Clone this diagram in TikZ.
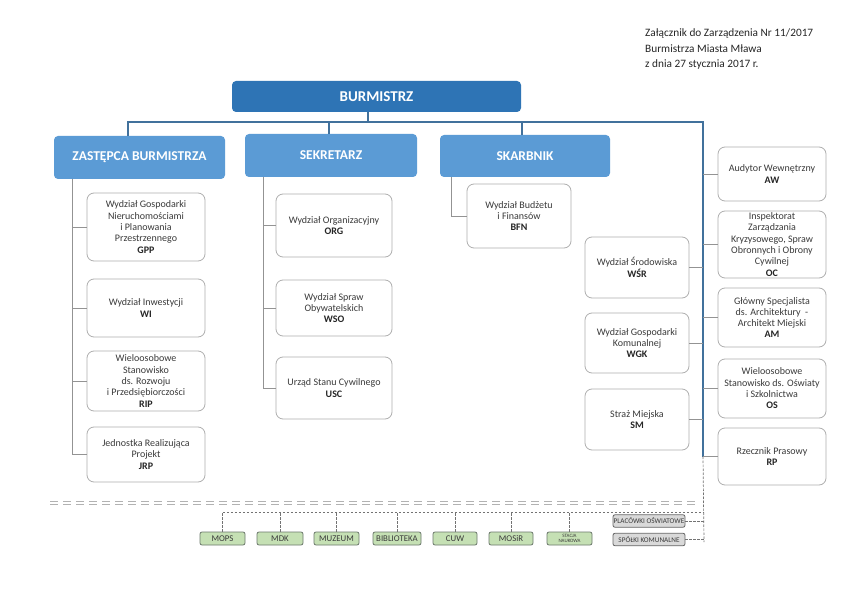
\documentclass[tikz,border=0pt]{standalone}
\usepackage{fontspec}
\setmainfont{Carlito}
\definecolor{dblue}{HTML}{2E74B5}
\definecolor{mblue}{HTML}{5B9BD5}
\definecolor{lineblue}{HTML}{41719C}
\definecolor{boxgray}{HTML}{AFAFAF}
\definecolor{txtgray}{HTML}{3A3A3A}
\definecolor{gfill}{HTML}{C5E0B4}
\definecolor{gdraw}{HTML}{6B786B}
\definecolor{sfill}{HTML}{D9D9D9}
\newcommand\unitcode[1]{\\{\color{black!85}\bfseries #1}}
\begin{document}
\begin{tikzpicture}[x=1pt,y=-1pt,
  unit/.style={draw=boxgray, line width=0.8pt, rounded corners=7pt, fill=white,
    align=center, inner sep=1pt, text=txtgray, font=\fontsize{10}{11.3}\selectfont},
  topbox/.style={fill=dblue, rounded corners=4pt, text=white, inner sep=0pt,
    font=\fontsize{15}{17}\selectfont\bfseries},
  lvl/.style={fill=mblue, rounded corners=4pt, text=white, inner sep=0pt,
    font=\fontsize{13.5}{16}\selectfont\bfseries},
  trunk/.style={draw=lineblue, line width=1.8pt},
  branch/.style={draw=gray!85, line width=0.7pt},
  dsh/.style={draw=gray!90!black, line width=0.7pt, dash pattern=on 2.5pt off 1.5pt},
  sepline/.style={draw=gray!60, line width=1.2pt, dash pattern=on 8pt off 5pt},
  gbox/.style={draw=gdraw, fill=gfill, line width=0.8pt, rounded corners=2pt,
    inner sep=0pt, minimum height=13, text=txtgray, font=\fontsize{8.8}{9}\selectfont},
  sbox/.style={draw=gray!80!black, fill=sfill, line width=0.8pt, rounded corners=2pt,
    inner sep=0pt, minimum width=72, minimum height=12.5, text=txtgray,
    font=\fontsize{7.2}{8}\selectfont}
]
\useasboundingbox[fill=white] (0,0) rectangle (865,599);

% header
\node[anchor=north west, align=left, inner sep=0pt, text=black!85,
  font=\fontsize{11.3}{15.5}\selectfont] (hdr) at (645,28.5)
  {Załącznik do Zarządzenia Nr 11/2017\\Burmistrza Miasta Mława\\z dnia 27 stycznia 2017 r.};

% top levels
\node[topbox, minimum width=289, minimum height=31] (burm) at (376.5,96.5) {BURMISTRZ};
\node[lvl, minimum width=171, minimum height=43] (zast) at (139.5,157.5) {ZASTĘPCA BURMISTRZA};
\node[lvl, minimum width=172, minimum height=43] (sekr) at (331,155.5) {SEKRETARZ};
\node[lvl, minimum width=170, minimum height=42] (skarb) at (525,156) {SKARBNIK};

% left column
\node[unit, minimum width=118, minimum height=68] (gpp) at (146,227)
  {Wydział Gospodarki\\Nieruchomościami\\i Planowania\\Przestrzennego\unitcode{GPP}};
\node[unit, minimum width=118, minimum height=58] (wi) at (146,308)
  {Wydział Inwestycji\unitcode{WI}};
\node[unit, minimum width=118, minimum height=60] (rip) at (146,381)
  {Wieloosobowe\\Stanowisko\\ds. Rozwoju\\i Przedsiębiorczości\unitcode{RIP}};
\node[unit, minimum width=118, minimum height=55] (jrp) at (146,454.5)
  {Jednostka Realizująca\\Projekt\unitcode{JRP}};

% sekretarz column
\node[unit, minimum width=116, minimum height=63] (org) at (334,225.5)
  {Wydział Organizacyjny\unitcode{ORG}};
\node[unit, minimum width=116, minimum height=56] (wso) at (334,308)
  {Wydział Spraw\\Obywatelskich\unitcode{WSO}};
\node[unit, minimum width=116, minimum height=62] (usc) at (334,388)
  {Urząd Stanu Cywilnego\unitcode{USC}};

% skarbnik
\node[unit, minimum width=104, minimum height=64] (bfn) at (519,216)
  {Wydział Budżetu\\i Finansów\unitcode{BFN}};

% middle right
\node[unit, minimum width=104, minimum height=61] (wsr) at (637,267.5)
  {Wydział Środowiska\unitcode{WŚR}};
\node[unit, minimum width=104, minimum height=60] (wgk) at (637,343)
  {Wydział Gospodarki\\Komunalnej\unitcode{WGK}};
\node[unit, minimum width=104, minimum height=61] (sm) at (637,419.5)
  {Straż Miejska\unitcode{SM}};

% right column
\node[unit, minimum width=108, minimum height=54] (aw) at (772,174)
  {Audytor Wewnętrzny\unitcode{AW}};
\node[unit, minimum width=108, minimum height=67] (oc) at (772,244.5)
  {Inspektorat\\Zarządzania\\Kryzysowego, Spraw\\Obronnych i Obrony\\Cywilnej\unitcode{OC}};
\node[unit, minimum width=108, minimum height=59] (am) at (772,317.5)
  {Główny Specjalista\\ds. Architektury~~-\\Architekt Miejski\unitcode{AM}};
\node[unit, minimum width=108, minimum height=59] (os) at (772,388.5)
  {Wieloosobowe\\Stanowisko ds. Oświaty\\i Szkolnictwa\unitcode{OS}};
\node[unit, minimum width=108, minimum height=57] (rp) at (772,456.5)
  {Rzecznik Prasowy\unitcode{RP}};

% trunk connectors
\coordinate (hub) at (368,122);
\coordinate (zin) at (128,136);
\coordinate (sin) at (329,134);
\coordinate (kin) at (522,135);
\coordinate (rbot) at (703,456.5);
\draw[trunk] (burm.south -| hub) -- (hub);
\draw[trunk] (hub) -| (zin);
\draw[trunk] (hub) -| (sin);
\draw[trunk] (hub) -| (kin);
\draw[trunk] (hub) -| (rbot);

% left branches
\coordinate (zv) at (72,179);
\foreach \n in {gpp,wi,rip,jrp} \draw[branch] (zv) |- (\n.west);
\coordinate (sv) at (263,177);
\foreach \n in {org,wso,usc} \draw[branch] (sv) |- (\n.west);
\coordinate (kv) at (451,177);
\draw[branch] (kv) |- (bfn.west);
\foreach \n in {wsr,wgk,sm} \draw[branch] (\n.east) -- (\n.east -| rbot);
\foreach \n in {aw,oc,am,os,rp} \draw[branch] (\n.west -| rbot) -- (\n.west);

% separator (double dashed line)
\coordinate (sepa) at (50,501.6);
\coordinate (sepb) at (698,501.6);
\coordinate (sepc) at (50,504.8);
\coordinate (sepd) at (698,504.8);
\draw[sepline] (sepa) -- (sepb);
\draw[sepline] (sepc) -- (sepd);

% bottom units
\node[gbox, minimum width=45] (mops) at (222.5,538.5) {MOPS};
\node[gbox, minimum width=46] (mdk) at (280,538.5) {MDK};
\node[gbox, minimum width=45] (muz) at (336.5,538.5) {MUZEUM};
\node[gbox, minimum width=48] (bib) at (397,538.5) {BIBLIOTEKA};
\node[gbox, minimum width=44] (cuw) at (455,538.5) {CUW};
\node[gbox, minimum width=44] (mosir) at (511,538.5) {MOSiR};
\node[gbox, minimum width=45, align=center, font=\fontsize{5}{5.5}\selectfont] (stac) at (569.5,538.5) {STACJA\\NAUKOWA};
\node[sbox] (plac) at (649,521) {PLACÓWKI OŚWIATOWE};
\node[sbox] (spol) at (649,539.5) {SPÓŁKI KOMUNALNE};

\coordinate (dbus) at (704,512);
\coordinate (dend) at (704,542);
\draw[dsh] (rbot) -- (dend);
\draw[dsh] (mops.north) |- (dbus);
\foreach \n in {mdk,muz,bib,cuw,mosir,stac} \draw[dsh] (\n.north) -- (\n.north |- dbus);
\draw[dsh] (plac.east) -- (plac.east -| dbus);
\draw[dsh] (spol.east) -- (spol.east -| dend);
\end{tikzpicture}
\end{document}
